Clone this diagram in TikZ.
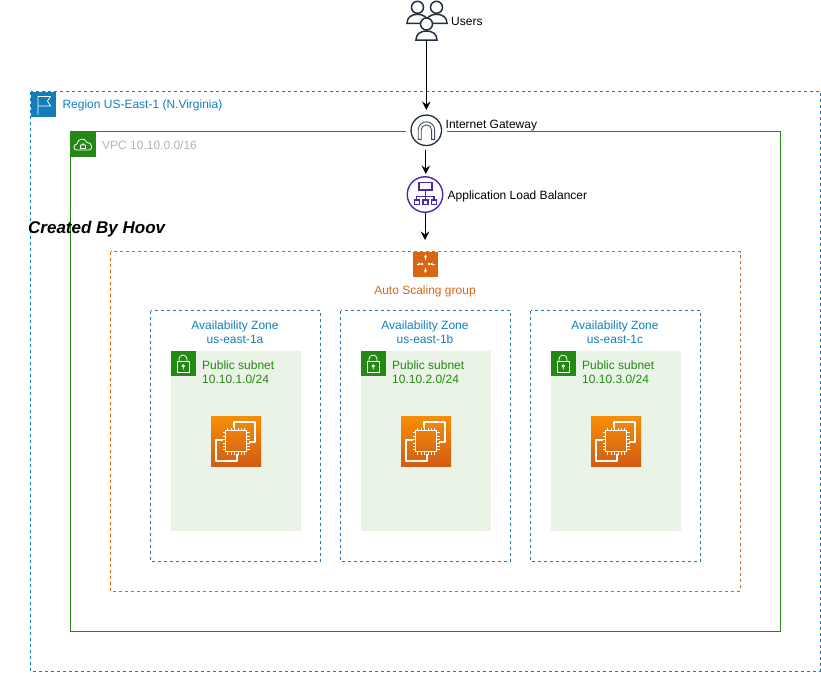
\documentclass[tikz,border=0pt]{standalone}
\usepackage{fontspec}
\setmainfont{Liberation Sans}
\usetikzlibrary{arrows.meta,calc}
\definecolor{regionblue}{HTML}{147EBA}
\definecolor{vpcgreen}{HTML}{248814}
\definecolor{asgorange}{HTML}{D86613}
\definecolor{subfill}{HTML}{E9F3E6}
\definecolor{igwdark}{HTML}{232F3E}
\definecolor{albpurple}{HTML}{4D27AA}
\definecolor{vpcgrey}{HTML}{AAB7B8}
\definecolor{ectop}{HTML}{F78E04}
\definecolor{ecbot}{HTML}{D05C17}
\tikzset{
  x=1pt,y=-1pt,
  lbl/.style={font=\fontsize{12}{14}\selectfont,inner sep=0pt,align=center},
  lblL/.style={lbl,anchor=west,align=left},
  boxR/.style={draw=regionblue,dash pattern=on 3pt off 3pt,line width=1pt},
  conn/.style={-{Stealth[length=8.5pt,width=8.5pt,inset=3pt]},line width=1pt,black},
  iconw/.style={white,line width=0.8pt,line join=round},
  usr/.style={igwdark,line width=1.5pt,fill=white},
  pics/person/.style={code={
    \draw[usr] (-10.5,13) .. controls (-10.5,7) and (-6,4) .. (0,4) .. controls (6,4) and (10.5,7) .. (10.5,13) -- cycle;
    \draw[usr] (0,-3) circle (6);
  }},
  pics/lockicon/.style={code={
    \fill[vpcgreen] (0,0) rectangle (25,25);
    \draw[iconw] (6.5,10.5) rectangle (19,21.5);
    \draw[iconw] (8.5,10.5) -- (8.5,8) arc[start angle=180,end angle=360,radius=4] -- (16.5,10.5);
    \draw[iconw] (12.75,15) circle (1.3) (12.75,16.3) -- (12.75,18.5);
  }},
  pics/ecicon/.style={code={
    \shade[bottom color=ecbot,top color=ectop] (0,0) rectangle (50,50);
    \draw[white,line width=1.3pt,line join=round] (23,12) -- (23,6) -- (44,6) -- (44,26) -- (38,26);
    \draw[white,line width=1.3pt,line join=round] (26,38) -- (26,45) -- (5,45) -- (5,24) -- (12,24);
    \draw[white,line width=1.3pt,fill=none] (14.5,14.5) rectangle (35.5,35.5);
    \foreach \t in {16.5,20,23.5,27,30.5,33.5}{
      \draw[white,line width=0.9pt] (\t,11.5) -- (\t,14.5) (\t,35.5) -- (\t,38.5) (11.5,\t) -- (14.5,\t) (35.5,\t) -- (38.5,\t);
    }
  }},
}
\begin{document}
\begin{tikzpicture}
\useasboundingbox (0,0) rectangle (821,672);
\begin{scope}[shift={(-0.5,-0.5)}]
% containers
\draw[boxR] (31,92) rectangle (820.5,671.6);
\draw[vpcgreen,line width=1pt] (71,132) rectangle (780.5,631.6);
\draw[asgorange,dash pattern=on 3pt off 3pt,line width=1pt] (111,252) rectangle (740.5,591.6);
% region icon
\fill[regionblue] (31,92) rectangle (56,117);
\draw[iconw] (38.5,115) -- (38.5,97) -- (51,97) -- (48,101.5) -- (51,106.5) -- (38.5,106.5);
\node[lblL,text=regionblue] (regionlabel) at (62.8,106) {Region US-East-1 (N.Virginia)};
% vpc icon
\fill[vpcgreen] (71,132) rectangle (96,157);
\draw[iconw] (77,150.5) .. controls (73.5,150.5) and (73.5,144.5) .. (77.5,144.5) .. controls (78,139) and (85.5,137.5) .. (87.5,143) .. controls (92.5,142.5) and (94,150.5) .. (89.5,150.5) -- cycle;
\draw[iconw,line width=0.7pt] (81,145.5) rectangle (86,149) (82,145.5) arc[start angle=180,end angle=360,radius=1.5];
\node[lblL,text=vpcgrey] (vpclabel) at (102.5,145.5) {VPC 10.10.0.0/16};
% zones
\foreach \zx/\sid/\cidr/\zn in {151/a/1/a,341/b/2/b,531/c/3/c}{
  \draw[boxR] (\zx,311) rectangle ++(170,250.6);
  \node[lbl,text=regionblue,font=\fontsize{12}{14.5}\selectfont] (zone\sid) at ($(\zx,332.8)+(84.5,0)$) {Availability Zone\\us-east-1\zn};
  \fill[subfill] ($(\zx,351.5)+(20,0)$) rectangle ++(130,180);
  \pic at ($(\zx,351.5)+(20,0)$) {lockicon};
  \node[lblL,text=vpcgreen,font=\fontsize{12}{14.5}\selectfont] (sub\sid) at ($(\zx,372.8)+(51.5,0)$) {Public subnet\\10.10.\cidr.0/24};
  \pic at ($(\zx,416.5)+(60.5,0)$) {ecicon};
}
% auto scaling
\node[fill=asgorange,minimum width=25pt,minimum height=25pt,inner sep=0pt] (asg) at (426,264.5) {};
\begin{scope}[white,line width=0.7pt]
\draw[-{Stealth[length=3pt,width=3pt]}] (426,260.5) -- (426,255);
\draw[-{Stealth[length=3pt,width=3pt]}] (426,268) -- (426,273.5);
\draw[-{Stealth[length=3pt,width=3pt]}] (417,264.5) -- (421.5,264.5);
\draw[-{Stealth[length=3pt,width=3pt]}] (435,264.5) -- (430.5,264.5);
\draw (422.6,264.5) circle (0.9) (429.4,264.5) circle (0.9);
\end{scope}
\node[lbl,text=asgorange] (asglabel) at (425.5,292) {Auto Scaling group};
% users
\pic at (418,10.8) {person};
\pic at (437,10.8) {person};
\pic at (427,27.5) {person};
\coordinate (users) at (426.8,40.5);
\node[lblL] (userslabel) at (451.5,21.5) {Users};
% igw
\fill[white] (406.5,110) rectangle (447,150);
\node[circle,draw=igwdark,line width=1.3pt,fill=white,minimum size=30.5pt,inner sep=0pt] (igw) at (426.8,130.8) {};
\draw[igwdark!85,line width=0.9pt,fill=white] (418.7,139.8) -- (418.7,130.5) arc[start angle=180,end angle=360,radius=8.2] -- (435.1,139.8) -- (432.1,139.8) -- (432.1,130.5) arc[start angle=360,end angle=180,radius=5.2] -- (421.7,139.8) -- cycle;
\node[lblL] (igwlabel) at (446,126) {Internet Gateway};
% alb
\node[circle,draw=albpurple,line width=1.4pt,fill=white,minimum size=35.5pt,inner sep=0pt] (alb) at (425.5,195) {};
\begin{scope}[albpurple,line width=1.2pt]
\draw (419.5,182.8) rectangle (432.5,190.5);
\draw (426,190.5) -- (426,200.5) (417,200.5) -- (417,197) -- (434.5,197) -- (434.5,200.5);
\draw (414.8,200.5) rectangle (419.8,205) (423.5,200.5) rectangle (428.5,205) (432,200.5) rectangle (437,205);
\end{scope}
\node[lblL] (alblabel) at (448,196.5) {Application Load Balancer};
% connectors
\coordinate (albtip) at (425.5,240.5);
\coordinate (igwtip) at (426.3,174.5);
\coordinate (igwin) at (426.8,110.5);
\draw[conn] (users) -- (igwin);
\draw[conn] (igw.south) ++(-0.5,3.5) -- (igwtip);
\draw[conn] (alb.south) -- (albtip);
% caption
\node[anchor=west,inner sep=0pt,font=\fontsize{17}{19}\selectfont\bfseries\itshape] (credit) at (28.5,229.5) {Created By Hoov};
\end{scope}
\end{tikzpicture}
\end{document}
